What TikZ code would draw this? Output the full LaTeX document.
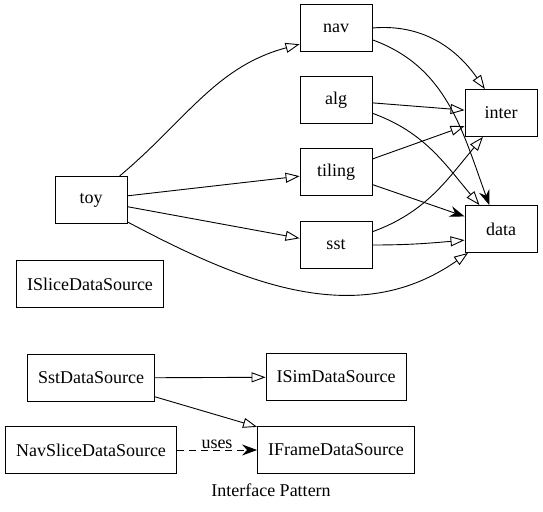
\documentclass[tikz,border=0pt]{standalone}
\usepackage{fontspec}
\setmainfont{LiberationSerif-Regular.ttf}
\newfontfamily\boxfont{LiberationSerif-Regular.ttf}
\usetikzlibrary{arrows.meta}

\begin{document}
\begin{tikzpicture}[x=1pt, y=-1pt, line width=0.9pt,
        box/.style={draw, minimum width=72pt, minimum height=47pt, inner xsep=10.5pt, font=\boxfont\fontsize{18}{20}\selectfont},
        impl/.style={-{Triangle[open, length=14pt, width=10pt]}},
        dep/.style={-{Stealth[length=15pt, width=11pt, inset=5pt]}}]
            \useasboundingbox (0,0) rectangle (543,511);
            \node [box] (nav) at (336, 28) {nav};
            \node [box] (alg) at (336, 100) {alg};
            \node [box] (tiling) at (336, 172) {tiling};
            \node [box] (sst) at (336, 245) {sst};
            \node [box] (inter) at (501, 113) {inter};
            \node [box] (data) at (501, 229) {data};
            \node [box] (toy) at (91, 200) {toy};
            \node [box] (islice) at (90, 284) {ISliceDataSource};
            \node [box] (sstsrc) at (91, 378) {SstDataSource};
            \node [box] (isim) at (336, 377) {ISimDataSource};
            \node [box] (navsrc) at (91, 450) {NavSliceDataSource};
            \node [box] (iframe) at (336, 450) {IFrameDataSource};
            \node [font=\boxfont\fontsize{18}{20}\selectfont] (caption) at (271, 490) {Interface Pattern};
            \draw [impl] (toy.40) to[out=40, in=195] (nav.204);
            \draw [impl] (toy) -- (tiling);
            \draw [impl] (toy) -- (sst);
            \draw [impl] (toy.-31) to[out=-28, in=215] (data.216);
            \draw [impl] (nav.east) to[out=5, in=125] (inter.124);
            \draw [dep] (nav.-18) to[out=-20, in=110] (data.116);
            \draw [impl] (alg) -- (inter);
            \draw [impl] (alg.-20) to[out=-20, in=130] (data.132);
            \draw [impl] (tiling) -- (inter);
            \draw [dep] (tiling) -- (data);
            \draw [impl] (sst.20) to[out=20, in=230] (inter.233);
            \draw [impl] (sst.east) to[out=0, in=185] (data.197);
            \draw [impl] (sstsrc) -- (isim);
            \draw [impl] (sstsrc) -- (iframe);
            \draw [dep, dash pattern=on 7pt off 5pt] (navsrc) -- node [above, font=\boxfont\fontsize{18}{20}\selectfont, inner sep=1pt] {uses} (iframe);
        \end{tikzpicture}
\end{document}
